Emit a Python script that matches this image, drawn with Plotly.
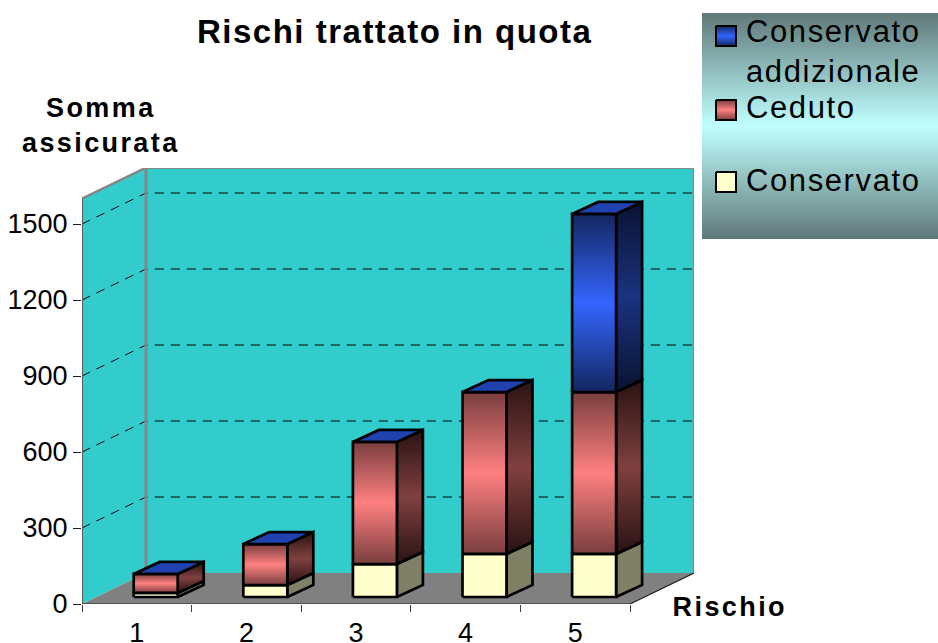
import plotly.graph_objects as go

# ---- data ----
CATEGORIES = [1, 2, 3, 4, 5]
CONSERVATO = [16, 47, 130, 170, 170]
CEDUTO = [75, 162, 482, 639, 639]
CONSERVATO_ADD = [0, 0, 0, 0, 703]
SERIES_NAMES = ["Conservato", "Ceduto", "Conservato<br>addizionale"]
Y_TICKS = [0, 300, 600, 900, 1200, 1500]
TITLE = "Rischi trattato in quota"
Y_TITLE = "Somma<br>assicurata"
X_TITLE = "Rischio"

# ---- page geometry ----
W, H = 938, 643
L, R, T, B = 82, 694, 168, 604
UX = 109.6           # px per category
UY = 76 / 300        # px per unit of value
XMIN, XMAX_FRONT = 0.5, 5.5
YTOP = 1600
WALL_DX, WALL_DY = 64 / UX, 31 / UY      # depth of the floor
BAR_DX0, BAR_DY0 = 14 / UX, 7 / UY       # front face set back from the axis
BAR_DX, BAR_DY = 26 / UX, 12 / UY        # depth of a bar
BAR_W = 44 / UX
BAR_SHIFT = 0.044 - 0.2
FONT = "Liberation Sans, Arial, sans-serif"

CYAN = "#33CCCC"
GREY = "#808080"
WALL_EDGE = "#868686"


def grad(edge, mid):
    return dict(type="vertical", colorscale=[[0, edge], [0.5, mid], [1, edge]])


FRONT_STYLE = [
    dict(fillcolor="#FFFFCC"),
    dict(fillgradient=grad("#7A3E3E", "#FF8080")),
    dict(fillgradient=grad("#14265F", "#3366FF")),
]
SIDE_STYLE = [
    dict(fillcolor="#808066"),
    dict(fillgradient=grad("#2A1212", "#804040")),
    dict(fillgradient=grad("#0A1230", "#1A3380")),
]
TOP_COLOR = "#1F42B0"

fig = go.Figure()


def poly(xs, ys, line=None, xaxis="x", yaxis="y", **kw):
    fig.add_trace(go.Scatter(
        x=xs, y=ys, mode="lines", fill="toself", showlegend=False, hoverinfo="skip",
        xaxis=xaxis, yaxis=yaxis,
        line=line or dict(width=0), **kw))


def seg(xs, ys, color, width=1, dash="solid"):
    fig.add_trace(go.Scatter(
        x=xs, y=ys, mode="lines", showlegend=False, hoverinfo="skip",
        line=dict(color=color, width=width, dash=dash)))


# walls and floor
poly([XMIN, XMIN, XMIN + WALL_DX, XMIN + WALL_DX], [0, YTOP, YTOP + WALL_DY, WALL_DY], fillcolor=CYAN)
poly([XMIN + WALL_DX, XMIN + WALL_DX, XMAX_FRONT + WALL_DX, XMAX_FRONT + WALL_DX],
     [WALL_DY, YTOP + WALL_DY, YTOP + WALL_DY, WALL_DY], fillcolor=CYAN)
poly([XMIN, XMAX_FRONT, XMAX_FRONT + WALL_DX, XMIN + WALL_DX], [0, 0, WALL_DY, WALL_DY], fillcolor=GREY)

# gridlines
for v in Y_TICKS[1:]:
    seg([XMIN, XMIN + WALL_DX, XMAX_FRONT + WALL_DX], [v, v + WALL_DY, v + WALL_DY], "#000000", 1, "9px,7px")

# wall edges
seg([XMIN, XMIN + WALL_DX, XMAX_FRONT + WALL_DX, XMAX_FRONT + WALL_DX],
    [YTOP, YTOP + WALL_DY, YTOP + WALL_DY, WALL_DY], WALL_EDGE, 2.5)
seg([XMIN + WALL_DX, XMIN + WALL_DX], [WALL_DY, YTOP + WALL_DY], WALL_EDGE, 3)

# floor edges / axes
seg([XMIN, XMIN], [0, YTOP], "#5A5A5A", 2)
seg([XMIN, XMAX_FRONT, XMAX_FRONT + WALL_DX], [0, 0, WALL_DY], "#202020", 1.2)

# bars
EDGE = dict(color="#000000", width=2.7)
for i, cat in enumerate(CATEGORIES):
    x0 = cat + BAR_SHIFT + BAR_DX0
    x1 = x0 + BAR_W
    base = BAR_DY0
    for s, values in enumerate([CONSERVATO, CEDUTO, CONSERVATO_ADD]):
        v = values[i]
        if v == 0:
            continue
        top = base + v
        poly([x1, x1 + BAR_DX, x1 + BAR_DX, x1, x1],
             [base, base + BAR_DY, top + BAR_DY, top, base], line=EDGE, **SIDE_STYLE[s])
        poly([x0, x1, x1, x0, x0], [base, base, top, top, base], line=EDGE, **FRONT_STYLE[s])
        base = top
    poly([x0, x1, x1 + BAR_DX, x0 + BAR_DX, x0],
         [base, base, base + BAR_DY, base + BAR_DY, base], line=EDGE, fillcolor=TOP_COLOR)

# legend panel, on its own pixel-scaled axes
LX0, LX1, LY0, LY1 = 702, 938, 13, 239
poly([LX0, LX1, LX1, LX0, LX0], [LY0, LY0, LY1, LY1, LY0], xaxis="x2", yaxis="y2",
     fillgradient=dict(type="vertical", colorscale=[[0, "#5F7878"], [0.5, "#C0FFFF"], [1, "#5F7878"]]))
SWATCH_Y = [172, 100, 26]
SWATCH_H = 20
LABEL_Y = [180, 108, 52]
SWATCH_EDGE = dict(color="#000000", width=2)
for s in [2, 1, 0]:
    y0 = SWATCH_Y[s]
    poly([716, 736, 736, 716, 716], [y0, y0, y0 + SWATCH_H, y0 + SWATCH_H, y0],
         xaxis="x2", yaxis="y2", line=SWATCH_EDGE, **FRONT_STYLE[s])


annotations = [
    dict(text=f"<b>{TITLE}</b>", x=395, y=31, size=33, xa="center"),
    dict(text=f"<b>{Y_TITLE}</b>", x=101, y=126, size=27, xa="center"),
    dict(text=f"<b>{X_TITLE}</b>", x=730, y=607, size=27, xa="center"),
] + [
    dict(text=SERIES_NAMES[s], x=744, y=LABEL_Y[s], size=31, xa="left") for s in [2, 1, 0]
]

fig.update_layout(
    width=W, height=H, autosize=False,
    margin=dict(l=0, r=0, t=0, b=0),
    paper_bgcolor="white", plot_bgcolor="rgba(0,0,0,0)",
    showlegend=False,
    font=dict(family=FONT, color="#000000"),
    xaxis=dict(
        domain=[L / W, R / W], range=[XMIN, XMIN + (R - L) / UX], automargin=False,
        tickmode="array", tickvals=CATEGORIES, ticktext=[str(c) for c in CATEGORIES],
        ticks="outside", ticklen=0, ticklabelstandoff=5,
        tickfont=dict(size=27, family=FONT),
        showgrid=False, zeroline=False, showline=False,
        minor=dict(tickmode="array", tickvals=[c - 0.5 for c in CATEGORIES] + [CATEGORIES[-1] + 0.5],
                   ticks="outside", ticklen=7, tickwidth=1, tickcolor="#404040", showgrid=False),
    ),
    yaxis=dict(
        domain=[(H - B) / H, (H - T) / H], range=[0, (B - T) / UY], automargin=False,
        tickmode="array", tickvals=Y_TICKS,
        ticks="outside", ticklen=8, tickwidth=1, tickcolor="#202020",
        ticklabelstandoff=0,
        tickfont=dict(size=27, family=FONT),
        showgrid=False, zeroline=False, showline=False,
    ),
    xaxis2=dict(domain=[LX0 / W, LX1 / W], range=[LX0, LX1], visible=False, anchor="y2", fixedrange=True),
    yaxis2=dict(domain=[(H - LY1) / H, (H - LY0) / H], range=[LY1, LY0], visible=False, anchor="x2", fixedrange=True),
    annotations=[
        dict(text=a["text"], xref="paper", yref="paper", x=a["x"] / W, y=1 - a["y"] / H,
             xanchor=a["xa"], yanchor="middle", showarrow=False, align=a["xa"],
             font=dict(size=a["size"], family=FONT, color="#000000"))
        for a in annotations
    ],
)

POST = """
document.documentElement.style.margin='0';
document.body.style.margin='0';
document.querySelectorAll('.annotation-text').forEach(function(t){
  var s=parseFloat(t.style.fontSize);
  t.style.letterSpacing = s>=33 ? '1.5px' : (s>=31 ? '1.6px' : '2.4px');
});
"""
fig.write_html("out.html", post_script=POST, config=dict(displayModeBar=False))
